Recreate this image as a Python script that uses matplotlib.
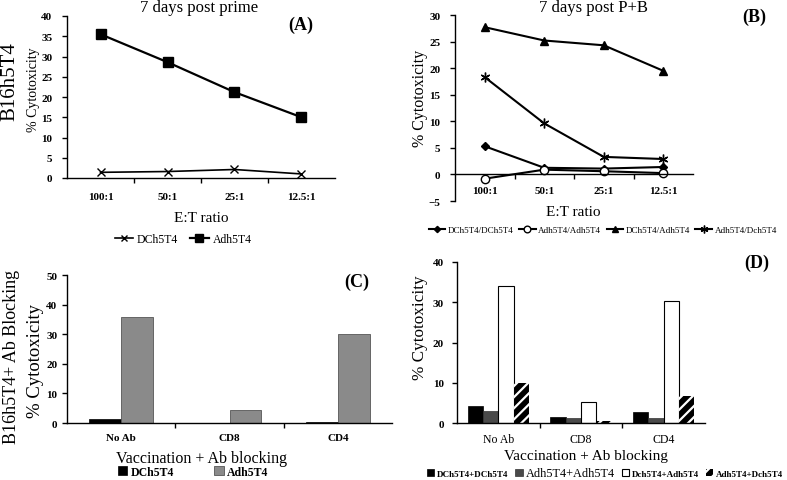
import numpy as np
import matplotlib
matplotlib.use("Agg")
import matplotlib.pyplot as plt

plt.rcParams['font.family'] = ['Liberation Serif', 'DejaVu Serif']
plt.rcParams['hatch.linewidth'] = 1.6

# panel A / B : E:T ratio curves
ratios = ['100:1', '50:1', '25:1', '12.5:1']
a_dch = [1.4, 1.6, 2.1, 1.0]
a_adh = [35.5, 28.6, 21.2, 15.0]
b_dch_dch = [5.3, 1.25, 1.1, 1.4]
b_adh_adh = [-0.8, 0.9, 0.6, 0.25]
b_dch_adh = [27.7, 25.2, 24.3, 19.5]
b_adh_dch = [18.3, 9.6, 3.3, 2.9]

# panel C / D : Ab blocking bars
blocks = ['No Ab', 'CD8', 'CD4']
c_dch = [1.3, 0.0, 0.3]
c_adh = [35.8, 4.5, 30.0]
d_dch_dch = [4.2, 1.5, 2.8]
d_adh_adh = [3.0, 1.3, 1.2]
d_dch_adh = [34.0, 5.1, 30.3]
d_adh_dch = [9.9, 0.6, 6.7]

W, H = 787, 481
fig = plt.figure(figsize=(W / 100, H / 100), dpi=100)


def box(l, t, r, b):
    # pixel box -> figure fraction
    return [l / W, 1 - b / H, (r - l) / W, (b - t) / H]


def txt(px, py, s, **kw):
    kw.setdefault('ha', 'center')
    kw.setdefault('va', 'center')
    fig.text(px / W, 1 - py / H, s, **kw)


def style(ax, n, xpad, ypad):
    ax.spines['top'].set_visible(False)
    ax.spines['right'].set_visible(False)
    ax.set_xlim(-0.5, n - 0.5)
    ax.set_xticks(np.arange(n - 1) + 0.5, minor=False)
    ax.tick_params(axis='x', which='major', length=3.5, width=1, labelbottom=False)
    ax.tick_params(axis='x', which='minor', length=0, pad=xpad, labelsize=8)
    ax.tick_params(axis='y', length=3.5, width=1, pad=ypad, labelsize=8)
    for s in ax.spines.values():
        s.set_linewidth(1)
    for lab in ax.get_yticklabels() + ax.get_xticklabels(minor=True):
        lab.set_fontweight('bold')


x = np.arange(len(ratios))

# ---- (A)
axA = fig.add_axes(box(67, 17, 335, 179))
axA.plot(x, a_dch, color='black', lw=1.2, marker='x', ms=6, mew=1, label='DCh5T4')
axA.plot(x, a_adh, color='black', lw=1.6, marker='s', ms=6.5, label='Adh5T4')
axA.set_ylim(0, 40)
axA.set_yticks(range(0, 41, 5))
axA.set_xticks(x, ratios, minor=True)
style(axA, 4, 10, 7)
txt(199, 8, '7 days post prime', fontsize=12)
txt(201, 218, 'E:T ratio', fontsize=11)
txt(33, 90, '% Cytotoxicity', fontsize=10, rotation=90)
txt(10, 82, 'B16h5T4', fontsize=15, rotation=90)
txt(301, 25, '(A)', fontsize=13, fontweight='bold')
fig.legend(*axA.get_legend_handles_labels(), loc='center', bbox_to_anchor=(183 / W, 1 - 240 / H),
           ncol=2, frameon=False, fontsize=8.5, handlelength=1.6, handletextpad=0.3, columnspacing=1.0,
           markerscale=0.8)

# ---- (B)
axB = fig.add_axes(box(455, 16, 693, 202))
axB.plot(x, b_dch_dch, color='black', lw=1.5, marker='D', ms=4, label='DCh5T4/DCh5T4')
axB.plot(x, b_adh_adh, color='black', lw=1.5, marker='o', ms=6, mfc='white', mew=1, label='Adh5T4/Adh5T4')
axB.plot(x, b_dch_adh, color='black', lw=1.5, marker='^', ms=6, label='DCh5T4/Adh5T4')
axB.plot(x, b_adh_dch, color='black', lw=1.5, marker=(6, 2, 0), ms=7, mew=1, label='Adh5T4/Dch5T4')
axB.set_ylim(-5, 30)
axB.set_yticks(range(-5, 31, 5))
axB.set_xticks(x, ratios, minor=True)
axB.spines['bottom'].set_position(('data', 0))
style(axB, 4, 8, 7)
txt(593, 8, '7 days post P+B', fontsize=12)
txt(573, 213, 'E:T ratio', fontsize=11)
txt(420, 98, '% Cytotoxicity', fontsize=11.5, rotation=90)
txt(754, 17, '(B)', fontsize=13, fontweight='bold')
fig.legend(*axB.get_legend_handles_labels(), loc='center', bbox_to_anchor=(603 / W, 1 - 231 / H),
           ncol=4, frameon=False, fontsize=6.5, handlelength=1.8, handletextpad=0.3, columnspacing=0.6,
           markerscale=0.8)

# ---- (C)
xb = np.arange(len(blocks))
axC = fig.add_axes(box(67, 276, 392, 424))
bw = 0.295
axC.bar(xb - bw / 2, c_dch, bw, color='black', edgecolor='black', lw=0.5, label='DCh5T4')
axC.bar(xb + bw / 2, c_adh, bw, color='#8a8a8a', edgecolor='#555555', lw=0.6, label='Adh5T4')
axC.set_ylim(0, 50)
axC.set_yticks(range(0, 51, 10))
axC.set_xticks(xb, blocks, minor=True)
style(axC, 3, 7, 3.5)
txt(201, 459, 'Vaccination + Ab blocking', fontsize=11.5)
txt(35, 361, '% Cytotoxicity', fontsize=13.5, rotation=90)
txt(12, 357, 'B16h5T4+ Ab Blocking', fontsize=13, rotation=90)
txt(357, 282, '(C)', fontsize=13, fontweight='bold')
legC = fig.legend(*axC.get_legend_handles_labels(), loc='center', bbox_to_anchor=(193 / W, 1 - 473 / H),
                  ncol=2, frameon=False, fontsize=8.5, handlelength=0.8, handleheight=0.8,
                  handletextpad=0.3, columnspacing=3.4, borderpad=0.2)
for t in legC.get_texts():
    t.set_fontweight('bold')

# ---- (D)
axD = fig.add_axes(box(457, 263, 705, 424))
bw = 0.185
axD.bar(xb - 1.5 * bw, d_dch_dch, bw, color='black', edgecolor='black', lw=0.5, label='DCh5T4+DCh5T4')
axD.bar(xb - 0.5 * bw, d_adh_adh, bw, color='#4a4a4a', edgecolor='#333333', lw=0.5, label='Adh5T4+Adh5T4')
axD.bar(xb + 0.5 * bw, d_dch_adh, bw, color='white', edgecolor='black', lw=0.8, label='Dch5T4+Adh5T4')
axD.bar(xb + 1.5 * bw, d_adh_dch, bw, color='black', edgecolor='white', hatch='///', lw=0, label='Adh5T4+Dch5T4')
axD.set_ylim(0, 40)
axD.set_yticks(range(0, 41, 10))
axD.set_xticks(xb, blocks, minor=True)
style(axD, 3, 7, 6)
for lab in axD.get_xticklabels(minor=True):
    lab.set_fontweight('normal')
    lab.set_fontsize(8.5)
txt(586, 457, 'Vaccination + Ab blocking', fontsize=11)
txt(420, 328, '% Cytotoxicity', fontsize=12.3, rotation=90)
txt(757, 263, '(D)', fontsize=13, fontweight='bold')
legD = fig.legend(*axD.get_legend_handles_labels(), loc='center', bbox_to_anchor=(605 / W, 1 - 474 / H),
                  ncol=4, frameon=False, fontsize=6.5, handlelength=0.8, handleheight=0.8,
                  handletextpad=0.3, columnspacing=0.8, borderpad=0.2)
for i, t in enumerate(legD.get_texts()):
    if i == 1:
        t.set_fontsize(8.8)
    else:
        t.set_fontweight('bold')

fig.savefig('out.png', dpi=100)
